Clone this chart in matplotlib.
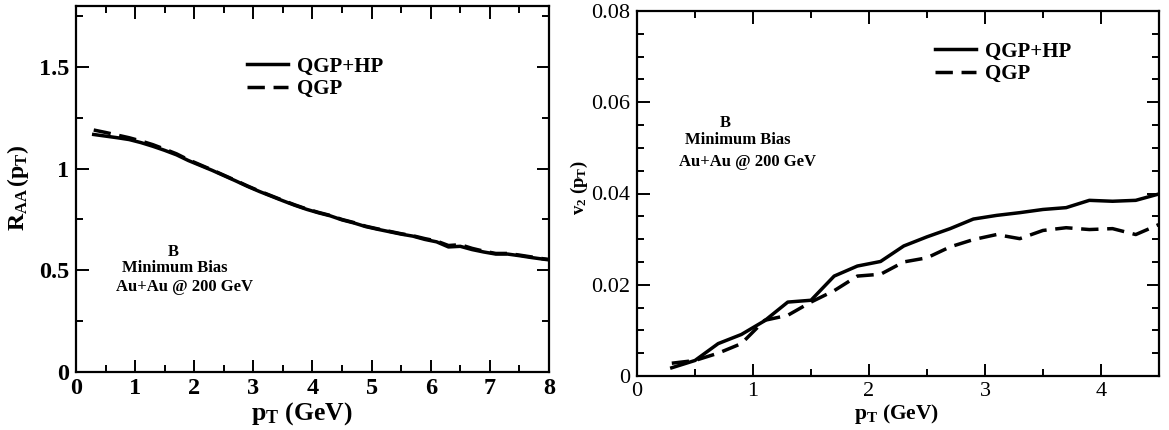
import numpy as np
import matplotlib
matplotlib.use("Agg")
import matplotlib.pyplot as plt
from matplotlib.ticker import MultipleLocator

plt.rcParams["font.family"] = ["Liberation Serif", "DejaVu Serif"]
plt.rcParams["mathtext.fontset"] = "custom"
plt.rcParams["mathtext.rm"] = "Liberation Serif"
plt.rcParams["mathtext.bf"] = "Liberation Serif:bold"
plt.rcParams["mathtext.it"] = "Liberation Serif:italic"

# --- Nuclear modification factor R_AA(pT) ---
pt_raa = [0.3, 0.5, 0.7, 0.9, 1.1, 1.3, 1.5, 1.7, 1.9, 2.1, 2.3, 2.5, 2.7, 2.9,
          3.1, 3.3, 3.5, 3.7, 3.9, 4.1, 4.3, 4.5, 4.7, 4.9, 5.1, 5.3, 5.5, 5.7,
          5.9, 6.1, 6.3, 6.5, 6.7, 6.9, 7.1, 7.3, 7.5, 7.7, 7.9, 8.1]
raa_qgp_hp = [1.168, 1.160, 1.152, 1.143, 1.128, 1.110, 1.090, 1.068, 1.040, 1.016,
              0.992, 0.966, 0.940, 0.913, 0.888, 0.865, 0.842, 0.820, 0.800, 0.783,
              0.768, 0.748, 0.733, 0.715, 0.702, 0.690, 0.678, 0.668, 0.652, 0.640,
              0.615, 0.618, 0.602, 0.590, 0.580, 0.580, 0.572, 0.563, 0.555, 0.548]
raa_qgp = [1.190, 1.178, 1.165, 1.152, 1.136, 1.118, 1.096, 1.073, 1.044, 1.019,
           0.994, 0.968, 0.942, 0.915, 0.890, 0.867, 0.844, 0.822, 0.802, 0.785,
           0.770, 0.750, 0.735, 0.717, 0.704, 0.692, 0.680, 0.670, 0.656, 0.644,
           0.622, 0.626, 0.608, 0.594, 0.583, 0.583, 0.575, 0.566, 0.557, 0.550]

# --- Elliptic flow v2(pT) ---
pt_v2 = [0.3, 0.5, 0.7, 0.9, 1.1, 1.3, 1.5, 1.7, 1.9, 2.1, 2.3, 2.5, 2.7, 2.9,
         3.1, 3.3, 3.5, 3.7, 3.9, 4.1, 4.3, 4.5]
v2_qgp_hp = [0.0018, 0.0034, 0.0071, 0.0091, 0.0121, 0.0162, 0.0166, 0.0219,
             0.0241, 0.0251, 0.0285, 0.0305, 0.0323, 0.0344, 0.0352, 0.0358,
             0.0365, 0.0369, 0.0385, 0.0383, 0.0385, 0.0399]
v2_qgp = [0.0028, 0.0034, 0.0050, 0.0071, 0.0122, 0.0133, 0.0162, 0.0187,
          0.0219, 0.0223, 0.0250, 0.0259, 0.0283, 0.0299, 0.0310, 0.0301,
          0.0319, 0.0325, 0.0321, 0.0323, 0.0310, 0.0332]

series_labels = ["QGP+HP", "QGP"]
info_lines = ["B", "Minimum Bias", "Au+Au @ 200 GeV"]

fig = plt.figure(figsize=(11.69, 4.30), dpi=100)
ax1 = fig.add_axes([0.0650, 0.1349, 0.4046, 0.8512])
ax2 = fig.add_axes([0.5449, 0.1256, 0.4465, 0.8488])

LW = 2.5
DASH = (0, (5, 2.5))


def style_axes(ax, bold, size):
    ax.tick_params(which="both", direction="in", top=True, right=True, width=1.4)
    ax.tick_params(which="major", length=9)
    ax.tick_params(which="minor", length=5)
    ax.tick_params(axis="x", pad=4)
    ax.tick_params(axis="y", pad=5)
    for s in ax.spines.values():
        s.set_linewidth(1.6)
    for lab in ax.get_xticklabels() + ax.get_yticklabels():
        lab.set_fontsize(size)
        lab.set_fontweight("bold" if bold else "normal")


def add_legend(ax, anchor):
    ax.legend(loc="upper left", bbox_to_anchor=anchor, frameon=False,
              handlelength=1.95, handletextpad=0.45, labelspacing=0.12,
              borderaxespad=0, borderpad=0,
              prop={"weight": "bold", "size": 15})


# Left panel: R_AA
ax1.plot(pt_raa, raa_qgp_hp, color="black", lw=LW, label=series_labels[0])
ax1.plot(pt_raa, raa_qgp, color="black", lw=LW, ls=DASH, label=series_labels[1])
ax1.set_xlim(0, 8)
ax1.set_ylim(0, 1.8)
ax1.xaxis.set_major_locator(MultipleLocator(1))
ax1.xaxis.set_minor_locator(MultipleLocator(0.5))
ax1.set_yticks([0, 0.5, 1, 1.5])
ax1.set_yticklabels(["0", "0.5", "1", "1.5"])
ax1.yaxis.set_minor_locator(MultipleLocator(0.25))
style_axes(ax1, True, 17.5)
ax1.set_xlabel(r"$\mathbf{p_T}$ (GeV)", fontsize=18.5, fontweight="bold")
ax1.xaxis.set_label_coords(0.478, -0.077)
ax1.set_ylabel(r"$\mathbf{R_{AA}\,(p_T)}$", fontsize=17)
ax1.yaxis.set_label_coords(-0.096, 0.503)
add_legend(ax1, (0.362, 0.862))
for i, t in enumerate(info_lines):
    ax1.text([0.205, 0.209, 0.229][i], [0.328, 0.284, 0.232][i], t, transform=ax1.transAxes,
             ha="center", va="center", fontsize=12, fontweight="bold")

# Right panel: v2
ax2.plot(pt_v2, v2_qgp_hp, color="black", lw=LW, label=series_labels[0])
ax2.plot(pt_v2, v2_qgp, color="black", lw=LW, ls=DASH, label=series_labels[1])
ax2.set_xlim(0, 4.5)
ax2.set_ylim(0, 0.08)
ax2.xaxis.set_major_locator(MultipleLocator(1))
ax2.xaxis.set_minor_locator(MultipleLocator(0.5))
ax2.set_yticks([0, 0.02, 0.04, 0.06, 0.08])
ax2.set_yticklabels(["0", "0.02", "0.04", "0.06", "0.08"])
ax2.yaxis.set_minor_locator(MultipleLocator(0.005))
style_axes(ax2, False, 16)
ax2.set_xlabel(r"$\mathbf{p_T}$ (GeV)", fontsize=15.5, fontweight="bold")
ax2.xaxis.set_label_coords(0.497, -0.072)
ax2.set_ylabel(r"$\mathbf{v_2\ (p_T)}$", fontsize=13.5)
ax2.yaxis.set_label_coords(-0.090, 0.515)
add_legend(ax2, (0.571, 0.916))
for i, t in enumerate(info_lines):
    ax2.text([0.170, 0.193, 0.211][i], [0.693, 0.647, 0.586][i], t, transform=ax2.transAxes,
             ha="center", va="center", fontsize=12, fontweight="bold")

fig.savefig("out.png", dpi=100)
